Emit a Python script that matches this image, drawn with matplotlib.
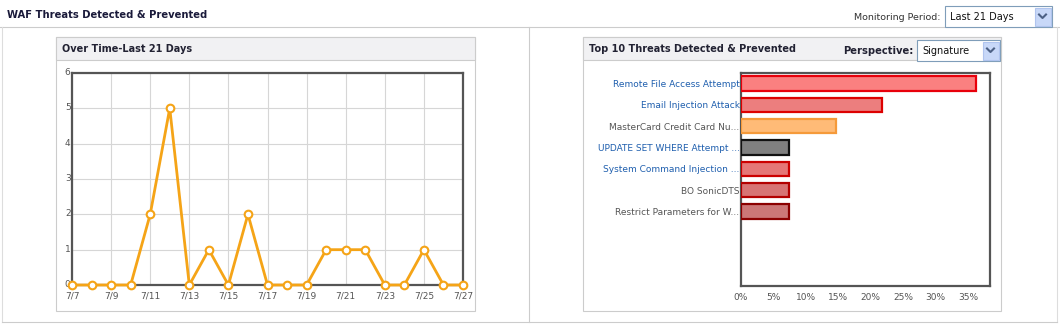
import matplotlib
matplotlib.use("Agg")
import matplotlib.pyplot as plt
from matplotlib.patches import Rectangle
from matplotlib.transforms import ScaledTranslation

W, H = 1060, 330

# line chart data
days = ["7/7", "7/8", "7/9", "7/10", "7/11", "7/12", "7/13", "7/14", "7/15", "7/16", "7/17",
        "7/18", "7/19", "7/20", "7/21", "7/22", "7/23", "7/24", "7/25", "7/26", "7/27"]
counts = [0, 0, 0, 0, 2, 5, 0, 1, 0, 2, 0, 0, 0, 1, 1, 1, 0, 0, 1, 0, 0]

# bar chart data
threats = ["Remote File Access Attempt", "Email Injection Attack", "MasterCard Credit Card Nu...",
           "UPDATE SET WHERE Attempt ...", "System Command Injection ...", "BO SonicDTS",
           "Restrict Parameters for W..."]
percents = [36.2, 21.8, 14.6, 7.4, 7.4, 7.4, 7.4]
label_colors = ["#1f5fae", "#1f5fae", "#555555", "#1f5fae", "#1f5fae", "#555555", "#555555"]
face_colors = ["#fa8080", "#ec7e7e", "#ffbb77", "#808080", "#e57777", "#d77474", "#cc7777"]
edge_colors = ["#e8000b", "#dd0000", "#f59a3a", "#111111", "#cc0000", "#b30000", "#8b0000"]
pct_ticks = [0, 5, 10, 15, 20, 25, 30, 35]

fig = plt.figure(figsize=(W / 100, H / 100), dpi=100)
plt.rcParams['font.family'] = ['DejaVu Sans']


def px_axes(x0, y0, x1, y1):
    return fig.add_axes([x0 / W, 1 - y1 / H, (x1 - x0) / W, (y1 - y0) / H])


# background layer in pixel coordinates
bg = fig.add_axes([0, 0, 1, 1])
bg.set_xlim(0, W)
bg.set_ylim(H, 0)
bg.axis('off')


def box(x0, y0, x1, y1, fc="white", ec="#cccccc", lw=0.8, z=1):
    bg.add_patch(Rectangle((x0, y0), x1 - x0, y1 - y0, facecolor=fc, edgecolor=ec, linewidth=lw, zorder=z))


def dropdown(x0, y0, x1, y1, label):
    box(x0, y0, x1, y1, ec="#7f9db9", z=3)
    box(x1 - 17, y0 + 1.5, x1 - 1.5, y1 - 1.5, fc="#c8d8f8", ec="#b0c4ee", z=4)
    cx, cy = x1 - 9.5, (y0 + y1) / 2
    bg.plot([cx - 3.5, cx, cx + 3.5], [cy - 2, cy + 1.5, cy - 2], color="#4d6185", lw=1.5, zorder=5)
    bg.text(x0 + 5, cy + 0.5, label, fontsize=7, color="#111111", va="center", zorder=5)


# outer frame
bg.plot([0, W], [26.5, 26.5], color="#cccccc", lw=0.8)
bg.plot([2, 2], [26.5, 322], color="#dddddd", lw=0.8)
bg.plot([1057, 1057], [26.5, 322], color="#dddddd", lw=0.8)
bg.plot([2, 1057], [322, 322], color="#cccccc", lw=0.8)
bg.plot([529, 529], [26.5, 322], color="#cccccc", lw=0.8)

bg.text(7, 15, "WAF Threats Detected & Prevented", fontsize=7.2, fontweight="bold",
        color="#1a1a3a", va="center")
bg.text(940, 17, "Monitoring Period:", fontsize=6.8, color="#333333", va="center", ha="right")
dropdown(945, 6, 1052, 27, "Last 21 Days")

# panels
for x0, x1, title in [(56, 475, "Over Time-Last 21 Days"), (583, 1001, "Top 10 Threats Detected & Prevented")]:
    box(x0, 37, x1, 311)
    box(x0, 37, x1, 60, fc="#f1f1f3")
    bg.text(x0 + 6, 49, title, fontsize=7, fontweight="bold", color="#222233", va="center", zorder=3)

bg.text(913, 51, "Perspective:", fontsize=7.2, fontweight="bold", color="#222233", va="center", ha="right")
dropdown(917, 40, 1000, 61, "Signature")

# line chart
ax1 = px_axes(72, 73, 463, 285)
x = list(range(len(days)))
ax1.plot(x, counts, color="#f5a417", lw=2, marker="o", markersize=5.5,
         markerfacecolor="white", markeredgecolor="#f5a417", markeredgewidth=1.5, clip_on=False, zorder=3)
ax1.set_xlim(0, len(days) - 1)
ax1.set_ylim(0, 6)
ax1.set_xticks(x[::2])
ax1.set_xticklabels(days[::2])
ax1.set_yticks(range(7))
ax1.grid(True, color="#d6d6d6", lw=0.8)
for s in ax1.spines.values():
    s.set_color("#555555")
    s.set_linewidth(1.6)
ax1.tick_params(length=0, labelsize=6.5, labelcolor="#555555")
ax1.tick_params(axis='x', pad=5)
ax1.tick_params(axis='y', pad=1)
shift_up = ScaledTranslation(0, 1.5 / 100, fig.dpi_scale_trans)
for lbl in ax1.get_yticklabels():
    lbl.set_transform(lbl.get_transform() + shift_up)

# bar chart
ax2 = px_axes(741, 73, 990, 286)
pos = list(range(len(threats)))
ax2.barh(pos, percents, height=0.68, color=face_colors, edgecolor=edge_colors, linewidth=1.6, zorder=3)
ax2.set_ylim(9.5, -0.5)
ax2.set_xlim(0, 38.4)
ax2.set_yticks(pos)
ax2.set_yticklabels(threats)
for lbl, c in zip(ax2.get_yticklabels(), label_colors):
    lbl.set_color(c)
ax2.set_xticks(pct_ticks)
ax2.set_xticklabels([f"{t}%" for t in pct_ticks])
for s in ax2.spines.values():
    s.set_color("#555555")
    s.set_linewidth(1.6)
ax2.tick_params(length=0, labelsize=6.5, pad=1)
ax2.tick_params(axis='x', labelcolor="#555555", pad=5)

fig.savefig("out.png", dpi=100)
